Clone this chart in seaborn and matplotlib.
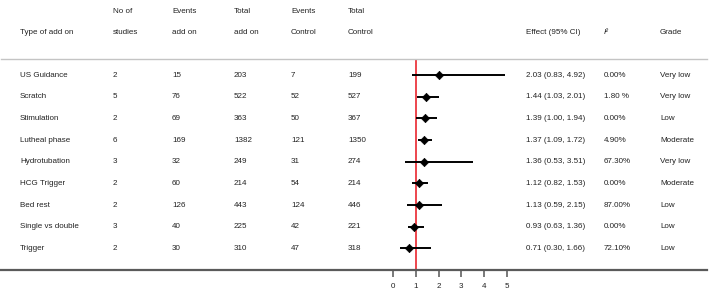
import matplotlib
matplotlib.use("Agg")
import matplotlib.pyplot as plt
import seaborn as sns
import pandas as pd

sns.set_theme(style="white")
plt.rcParams['font.family'] = ['Liberation Sans', 'DejaVu Sans']

# ---- data ----
addons = ["US Guidance", "Scratch", "Stimulation", "Lutheal phase", "Hydrotubation",
          "HCG Trigger", "Bed rest", "Single vs double", "Trigger"]
n_studies = [2, 5, 2, 6, 3, 2, 2, 3, 2]
events_addon = [15, 76, 69, 169, 32, 60, 126, 40, 30]
total_addon = [203, 522, 363, 1382, 249, 214, 443, 225, 310]
events_control = [7, 52, 50, 121, 31, 54, 124, 42, 47]
total_control = [199, 527, 367, 1350, 274, 214, 446, 221, 318]
effect = [2.03, 1.44, 1.39, 1.37, 1.36, 1.12, 1.13, 0.93, 0.71]
ci_low = [0.83, 1.03, 1.00, 1.09, 0.53, 0.82, 0.59, 0.63, 0.30]
ci_high = [4.92, 2.01, 1.94, 1.72, 3.51, 1.53, 2.15, 1.36, 1.66]
i2_labels = ["0.00%", "1.80 %", "0.00%", "4.90%", "67.30%", "0.00%", "87.00%", "0.00%", "72.10%"]
grades = ["Very low", "Very low", "Low", "Moderate", "Very low", "Moderate", "Low", "Low", "Low"]
x_ticks = [0, 1, 2, 3, 4, 5]

df = pd.DataFrame({"addon": addons, "effect": effect, "lo": ci_low, "hi": ci_high,
                   "row": list(range(len(addons)))})

W, H = 709, 298
fig = plt.figure(figsize=(W / 100, H / 100), dpi=100)
fig.patch.set_facecolor("white")

# axes spanning the table body (pixel y 59..270), full width
left_px, right_px = 1, 707
top_px, bot_px = 59, 270
ax = fig.add_axes([left_px / W, 1 - bot_px / H, (right_px - left_px) / W, (bot_px - top_px) / H])
x0_px, unit_px = 393.3, 22.7
ax.set_xlim((left_px - x0_px) / unit_px, (right_px - x0_px) / unit_px)
row0_px, row_px = 75.0, 21.67
ax.set_ylim((bot_px - row0_px) / row_px, (top_px - row0_px) / row_px)

# reference line
ax.axvline(1, color="#e8141c", lw=1.1, zorder=1)
# CIs and points
ax.hlines(df["row"], df["lo"], df["hi"], color="black", lw=1.4, zorder=2)
sns.scatterplot(data=df, x="effect", y="row", marker="D", color="black", s=18,
                edgecolor="black", linewidth=0.5, ax=ax, zorder=3, legend=False)

ax.set_xlabel("")
ax.set_ylabel("")
ax.set_yticks([])
ax.set_xticks(x_ticks)
ax.set_xticklabels([str(t) for t in x_ticks], fontsize=5.8, color="#222222")
ax.tick_params(axis="x", direction="out", length=5, width=1.1, color="#555555", pad=4.5, bottom=True)
for s in ["left", "right"]:
    ax.spines[s].set_visible(False)
ax.spines["bottom"].set_color("#5a5a5a")
ax.spines["bottom"].set_linewidth(1.6)
ax.spines["top"].set_color("#c4c4c4")
ax.spines["top"].set_linewidth(1.0)
ax.set_facecolor("white")

tr = ax.get_yaxis_transform()
fs = 5.8
tc = "#222222"

def colx(px):
    return (px - left_px) / (right_px - left_px)

cols = [20, 113, 172, 234, 291, 348, 526, 604, 660]
headers_top = ["", "No of", "Events", "Total", "Events", "Total", "", "", ""]
headers_bot = ["Type of add on", "studies", "add on", "add on", "Control", "Control",
               "Effect (95% CI)", "I²", "Grade"]
for cx, ht, hb in zip(cols, headers_top, headers_bot):
    if ht:
        ax.text(colx(cx), -2.92, ht, transform=tr, fontsize=fs, color=tc, va="center", ha="left", clip_on=False)
    style = "italic" if hb == "I²" else "normal"
    ax.text(colx(cx), -1.98, hb, transform=tr, fontsize=fs, color=tc, va="center", ha="left",
            clip_on=False, style=style)

for i in range(len(addons)):
    vals = [addons[i], str(n_studies[i]), str(events_addon[i]), str(total_addon[i]),
            str(events_control[i]), str(total_control[i]),
            f"{effect[i]:.2f} ({ci_low[i]:.2f}, {ci_high[i]:.2f})", i2_labels[i], grades[i]]
    for cx, v in zip(cols, vals):
        ax.text(colx(cx), i, v, transform=tr, fontsize=fs, color=tc, va="center", ha="left", clip_on=False)

fig.savefig("out.png", dpi=100, facecolor="white")
